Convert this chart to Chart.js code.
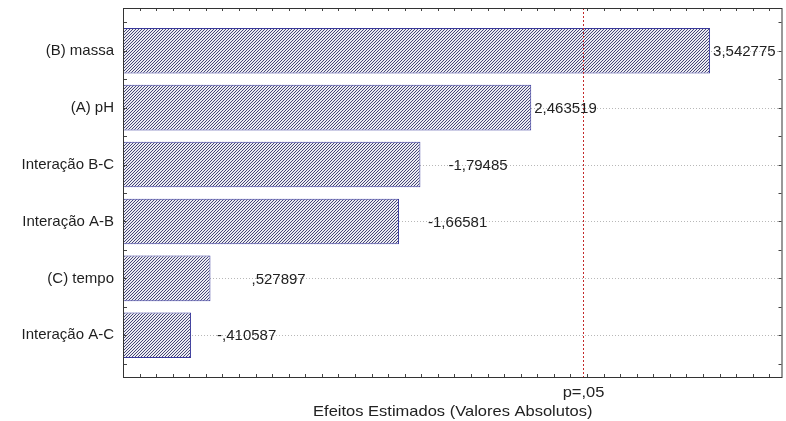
<!DOCTYPE html>
<html>
<head>
<meta charset="utf-8">
<script src="https://cdn.jsdelivr.net/npm/chart.js@4"></script>
<style>
  html, body { margin: 0; padding: 0; background: #fff; }
  #wrap { width: 786px; height: 421px; }
</style>
</head>
<body>
<div id="wrap"><canvas id="pareto" width="786" height="421"></canvas></div>
<script>
// Pareto chart of standardized effects
const categories = ['(B) massa', '(A) pH', 'Interação B-C', 'Interação A-B', '(C) tempo', 'Interação A-C'];
const effects = [3.542775, 2.463519, -1.79485, -1.66581, 0.527897, -0.410587];
const criticalT = 2.776;
const criticalLabel = 'p=,05';
const axisTitle = 'Efeitos Estimados (Valores Absolutos)';

// horizontal nudge (px) of each value label from the end of its bar
const labelShift = [3, 3, 28, 29, 41, 26];

const FONT = "'Liberation Sans', Arial, sans-serif";

// STATISTICA-style number: comma decimal, no leading zero
function fmt(v) {
  let s = String(v);
  s = s.replace(/^(-?)0\./, '$1.');
  return s.replace('.', ',');
}

// text drawn slightly wider than the font's natural proportions
function wideText(ctx, text, x, y, sx) {
  ctx.save();
  ctx.translate(x, y);
  ctx.scale(sx, 1);
  ctx.fillText(text, 0, 0);
  ctx.restore();
}

// diagonal hatch fill
function hatch() {
  const c = document.createElement('canvas');
  c.width = 3; c.height = 3;
  const g = c.getContext('2d');
  g.fillStyle = '#ececf2';
  g.fillRect(0, 0, 3, 3);
  g.fillStyle = '#464676';
  g.fillRect(2, 0, 1, 1);
  g.fillRect(1, 1, 1, 1);
  g.fillRect(0, 2, 1, 1);
  return g.createPattern(c, 'repeat');
}

const decor = {
  id: 'paretoDecor',
  beforeDatasetsDraw(chart) {
    const { ctx, chartArea: a, scales: { y } } = chart;
    ctx.save();
    ctx.strokeStyle = '#b8b8b8';
    ctx.lineWidth = 1;
    ctx.setLineDash([1, 2]);
    categories.forEach((_, i) => {
      const py = Math.round(y.getPixelForValue(i)) + 0.5;
      ctx.beginPath();
      ctx.moveTo(a.left, py);
      ctx.lineTo(a.right, py);
      ctx.stroke();
    });
    ctx.restore();
  },
  afterDatasetsDraw(chart) {
    const { ctx, chartArea: a, scales: { x, y } } = chart;
    ctx.save();

    // critical value line
    const cx = Math.round(x.getPixelForValue(criticalT)) + 0.5;
    ctx.strokeStyle = '#c42a2a';
    ctx.lineWidth = 1;
    ctx.setLineDash([2, 2]);
    ctx.beginPath();
    ctx.moveTo(cx, a.top);
    ctx.lineTo(cx, a.bottom);
    ctx.stroke();
    ctx.setLineDash([]);

    // value labels
    ctx.font = '15px ' + FONT;
    ctx.fillStyle = '#222';
    ctx.textAlign = 'left';
    ctx.textBaseline = 'middle';
    effects.forEach((v, i) => {
      const px = x.getPixelForValue(Math.abs(v)) + labelShift[i];
      ctx.fillText(fmt(v), px, y.getPixelForValue(i) + 1);
    });

    // frame
    ctx.strokeStyle = '#333';
    ctx.strokeRect(a.left + 0.5, a.top + 0.5, a.right - a.left - 1, a.bottom - a.top - 1);

    // inward tick marks
    ctx.strokeStyle = '#444';
    ctx.beginPath();
    for (let t = 0.1; t < x.max - 0.01; t += 0.1) {
      const px = Math.round(x.getPixelForValue(t)) + 0.5;
      ctx.moveTo(px, a.bottom - 1); ctx.lineTo(px, a.bottom - 4);
      ctx.moveTo(px, a.top + 1); ctx.lineTo(px, a.top + 3);
    }
    for (let t = -0.5; t < y.max; t += 0.5) {
      const py = Math.round(y.getPixelForValue(t)) + 0.5;
      ctx.moveTo(a.left + 1, py); ctx.lineTo(a.left + 4, py);
      ctx.moveTo(a.right - 1, py); ctx.lineTo(a.right - 4, py);
    }
    ctx.stroke();

    // critical label and axis title
    ctx.fillStyle = '#222';
    ctx.textAlign = 'center';
    ctx.textBaseline = 'middle';
    ctx.font = '15px ' + FONT;
    wideText(ctx, criticalLabel, cx, a.bottom + 14.5, 1.1);
    wideText(ctx, axisTitle, (a.left + a.right) / 2, a.bottom + 33.5, 1.1);
    ctx.restore();
  }
};

new Chart(document.getElementById('pareto'), {
  type: 'bar',
  data: {
    datasets: [{
      data: effects.map((v, i) => ({ x: Math.abs(v), y: i })),
      backgroundColor: hatch(),
      borderColor: '#3a3a9c',
      borderWidth: 1,
      borderSkipped: false,
      categoryPercentage: 1,
      barPercentage: 0.8
    }]
  },
  options: {
    indexAxis: 'y',
    responsive: false,
    animation: false,
    devicePixelRatio: 1,
    layout: { padding: { top: 8, right: 3.5, left: 0, bottom: 0 } },
    plugins: { legend: { display: false }, tooltip: { enabled: false } },
    scales: {
      x: {
        type: 'linear',
        min: 0,
        max: 3.98,
        offset: false,
        position: 'bottom',
        grid: { display: false, drawTicks: false },
        border: { display: false },
        ticks: { display: false },
        afterFit(s) { s.height = 43; s.paddingLeft = 0; s.paddingRight = 0; }
      },
      y: {
        type: 'linear',
        reverse: true,
        min: -0.75,
        max: 5.75,
        offset: false,
        grid: { display: false, drawTicks: false, offset: false },
        border: { display: false },
        ticks: {
          stepSize: 1,
          includeBounds: false,
          autoSkip: false,
          padding: 9,
          color: '#1e1e1e',
          font: { family: FONT, size: 15 },
          callback: v => (Number.isInteger(v) && categories[v] !== undefined) ? categories[v] : ''
        },
        afterFit(s) { s.width = 123; s.paddingTop = 0; s.paddingBottom = 0; }
      }
    }
  },
  plugins: [decor]
});
</script>
</body>
</html>
